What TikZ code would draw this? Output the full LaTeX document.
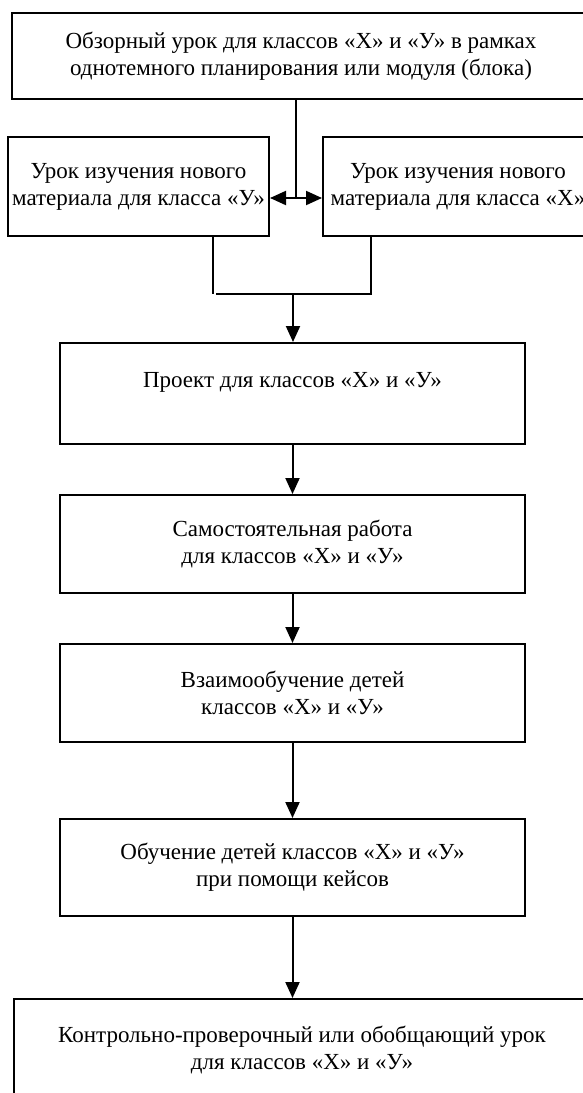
\documentclass[tikz,border=0pt]{standalone}
\usepackage{fontspec}
\setmainfont{Liberation Serif}
\usetikzlibrary{arrows.meta,calc}
\begin{document}
\begin{tikzpicture}[x=1pt,y=-1pt,
  box/.style={draw,line width=2pt,align=center,inner sep=0pt,
    font=\fontsize{23}{27}\selectfont},
  arr/.style={line width=2pt,-{Triangle[width=14pt,length=16pt]}},
  dbl/.style={line width=2pt,{Triangle[width=14pt,length=16pt]}-{Triangle[width=14pt,length=16pt]}},
  conn/.style={line width=2pt}]
\useasboundingbox (0,0) rectangle (583,1093);
% top box
\node[box,minimum width=578pt,minimum height=86pt] (top) at (301,56)
  {Обзорный урок для классов «Х» и «У» в рамках\\однотемного планирования или модуля (блока)};
% side boxes
\node[box,minimum width=261pt,minimum height=99pt] (L) at (138.5,186.5)
  {Урок изучения нового\\материала для класса «У»};
\node[box,minimum width=270pt,minimum height=99pt] (R) at (458,186.5)
  {Урок изучения нового\\материала для класса «Х»};
% main chain
\node[box,minimum width=465pt,minimum height=101pt] (P) at (292.5,393.5)
  {Проект для классов «Х» и «У»\\\mbox{}};
\node[box,minimum width=465pt,minimum height=98pt] (S) at (292.5,544)
  {Самостоятельная работа\\для классов «Х» и «У»};
\node[box,minimum width=465pt,minimum height=98pt] (V) at (292.5,693)
  {Взаимообучение детей\\классов «Х» и «У»};
\node[box,minimum width=465pt,minimum height=97pt] (O) at (292.5,867.5)
  {Обучение детей классов «Х» и «У»\\при помощи кейсов};
\node[box,minimum width=576pt,minimum height=101pt] (K) at (302,1049.5)
  {Контрольно-проверочный или обобщающий урок\\для классов «Х» и «У»};
% connectors at top
\coordinate (j1) at (296,198);
\coordinate (cL) at (213,294);
\coordinate (cR) at (371,294);
\coordinate (cM) at (293,294);
\draw[conn] (top.south -| j1) -- (j1);
\draw[dbl] (j1 -| L.east) -- (j1 -| R.west);
\draw[conn] (L.south -| cL) -- (cL);
\draw[conn] (R.south -| cR) -- (cR) -- ($(cL)+(3,0)$);
\draw[arr] (cM) -- (P.north -| cM);
\draw[arr] (P.south) -- (S.north);
\draw[arr] (S.south) -- (V.north);
\draw[arr] (V.south) -- (O.north);
\draw[arr] (O.south) -- (K.north -| O.south);
\end{tikzpicture}
\end{document}
